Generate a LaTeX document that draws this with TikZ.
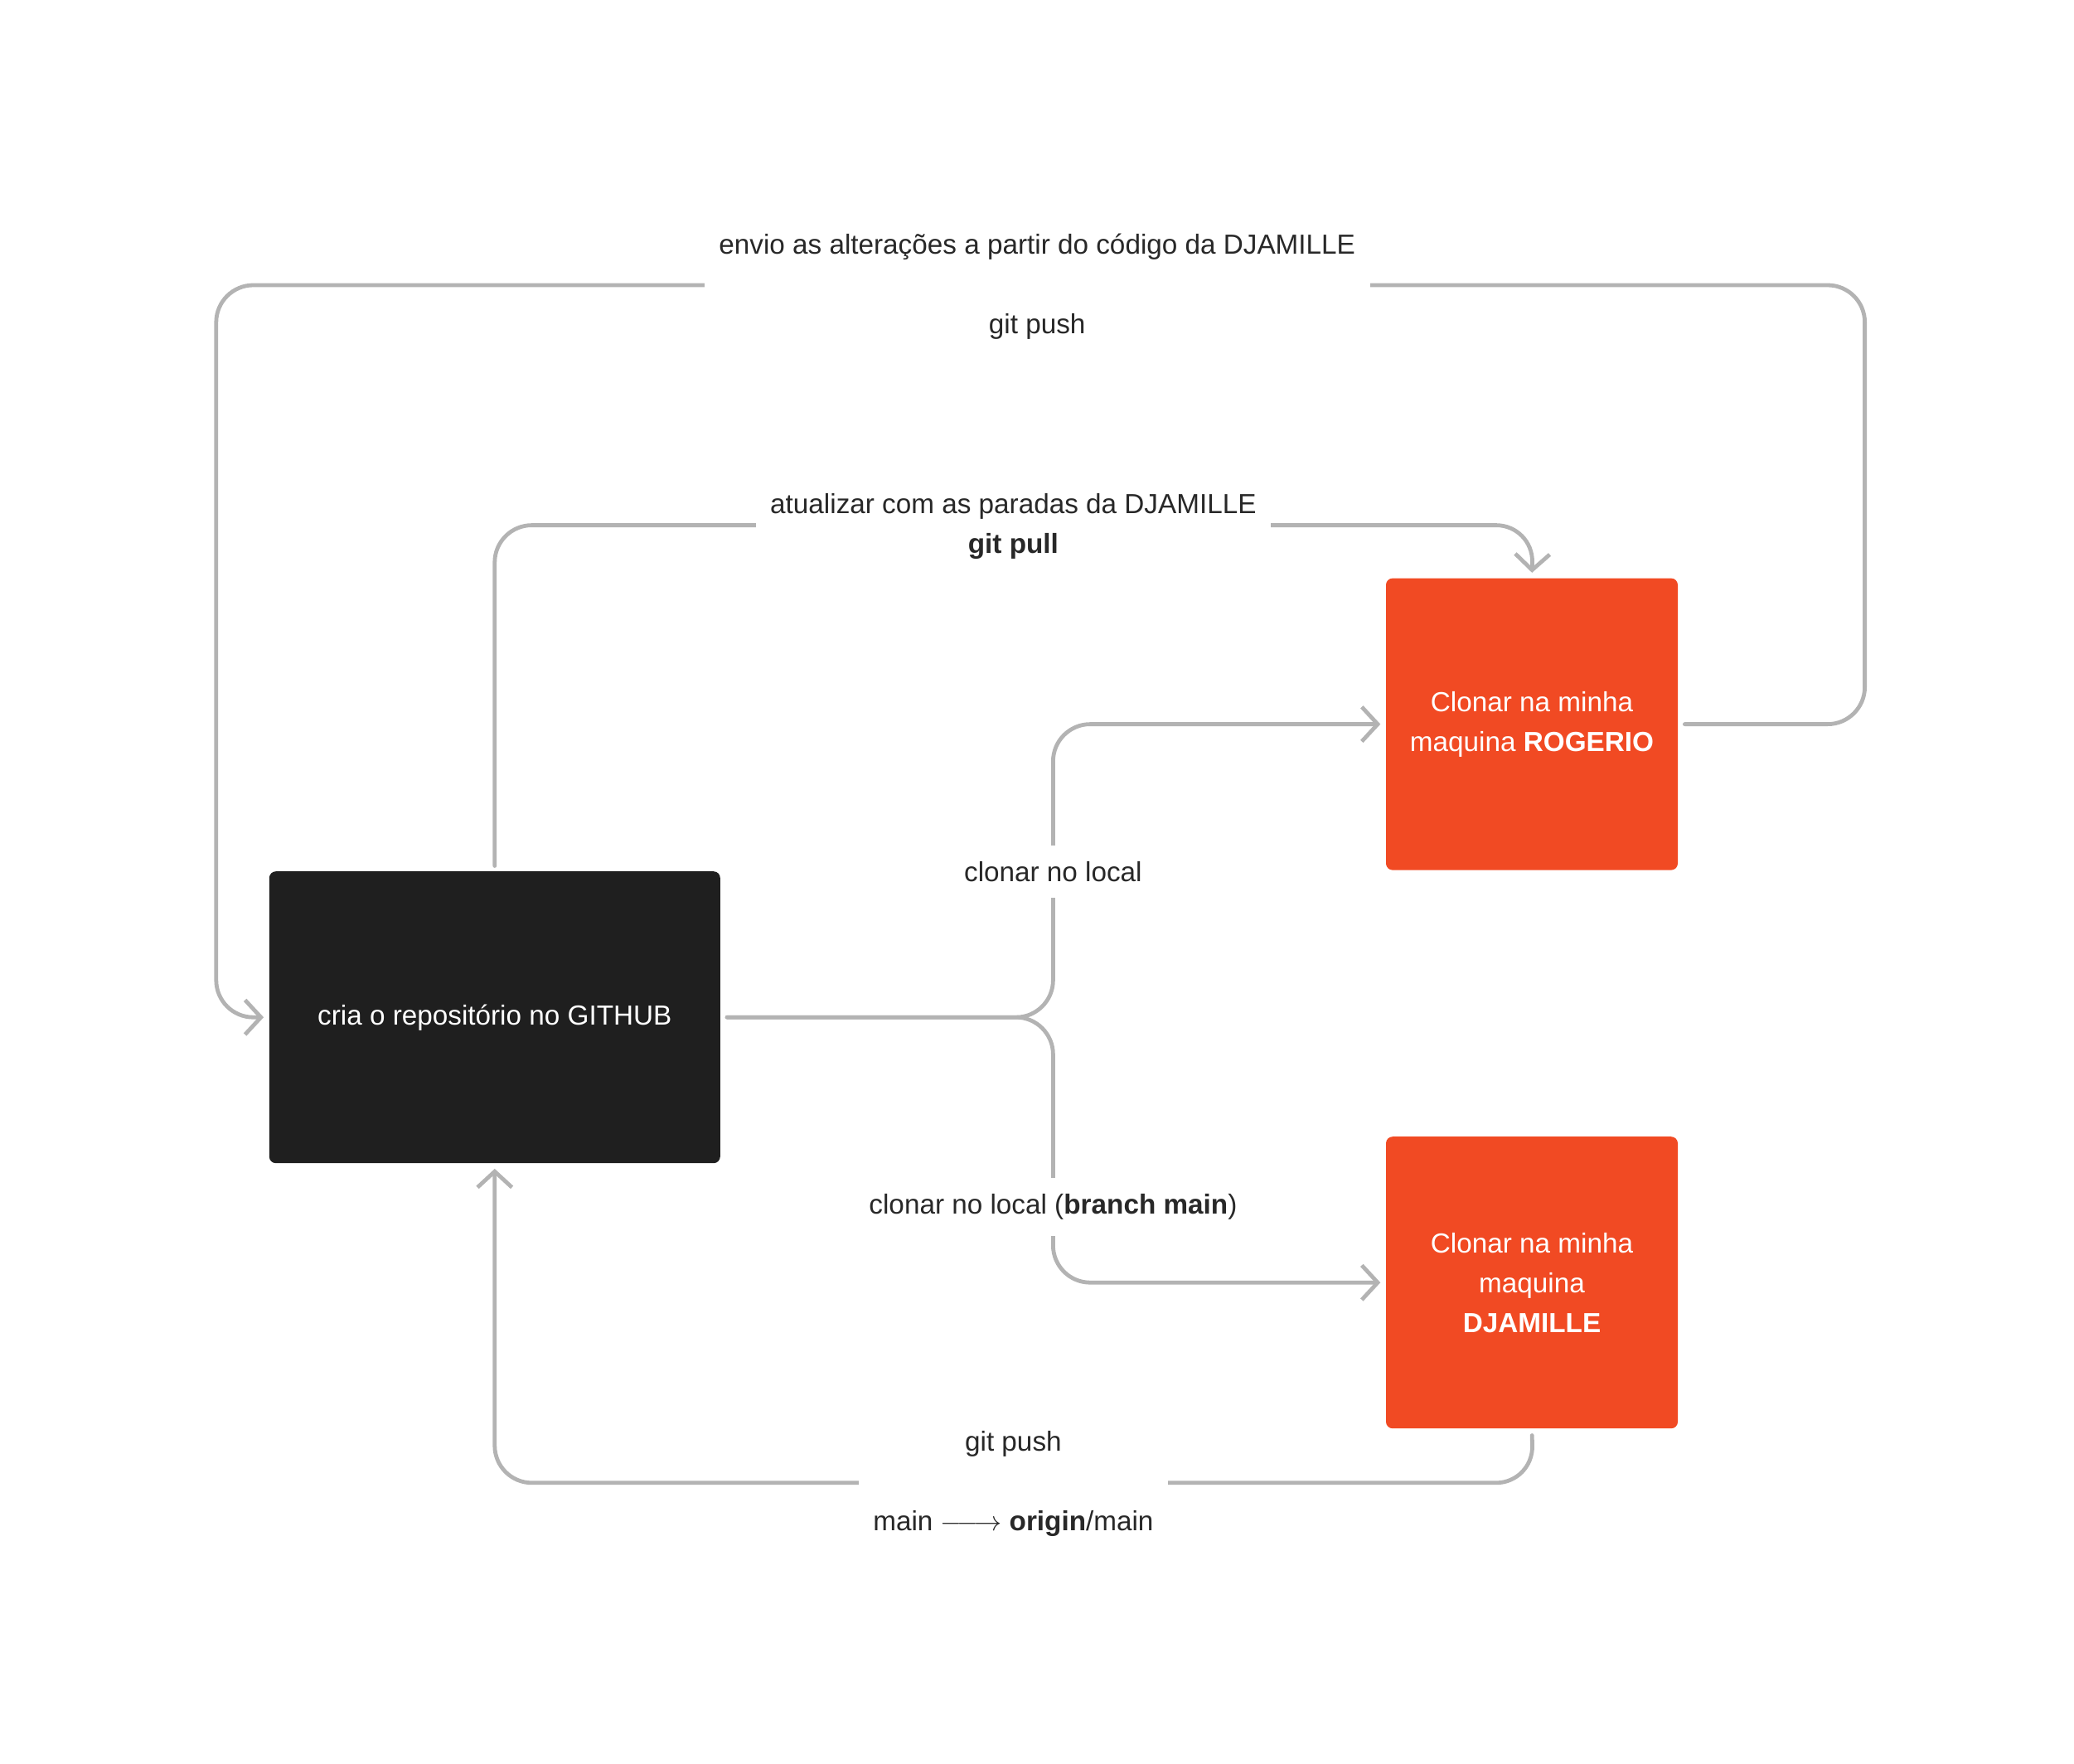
\documentclass[tikz,border=0pt]{standalone}
\usepackage{fontspec}
\setmainfont{Liberation Sans}
\usetikzlibrary{arrows.meta}

\begin{document}
\begin{tikzpicture}[x=1pt,y=1pt,yscale=-1,xscale=1,
    font=\fontsize{20.8}{30}\selectfont,
    conn/.style={draw={rgb, 255:red, 179; green, 179; blue, 179 }, line width=3pt, rounded corners=28pt, line cap=round, line join=round,
        -{Straight Barb[length=12pt,width=26pt]}, shorten <=5pt, shorten >=4pt},
    lbl/.style={text={rgb, 255:red, 40; green, 40; blue, 40 }, fill=white, align=center, inner xsep=11pt, inner ysep=4pt},
    box/.style={rounded corners=5pt, minimum width=220pt, minimum height=220pt, inner sep=0pt, text=white, align=center},
    ]
    \useasboundingbox (0,0) rectangle (1563.75,1330);

    %Shape: Rectangle [id:github]
    \draw (373,767) node [box, minimum width=340pt, fill={rgb, 255:red, 31; green, 31; blue, 31 }] (github) {cria o repositório no GITHUB};
    %Shape: Rectangle [id:rogerio]
    \draw (1155,546) node [box, fill={rgb, 255:red, 241; green, 74; blue, 35 }] (rogerio) {Clonar na minha\\maquina \textbf{ROGERIO}};
    %Shape: Rectangle [id:djamille]
    \draw (1155,967) node [box, fill={rgb, 255:red, 241; green, 74; blue, 35 }] (djamille) {Clonar na minha\\maquina\\\textbf{DJAMILLE}};

    %Straight Lines [id:push rogerio]
    \draw [conn] (rogerio.east) -- (1406,546) -- (1406,215) -- (163,215) -- (163,767) -- (github.west) ;
    %Straight Lines [id:pull]
    \draw [conn, shorten <=4pt] (github.north) -- (373,396) -- (1156,396) -- (rogerio.north) ;
    %Straight Lines [id:clone rogerio]
    \draw [conn] (github.east) -- (794,767) -- (794,546) -- (rogerio.west) ;
    %Straight Lines [id:clone djamille]
    \draw [conn] (github.east) -- (794,767) -- (794,967) -- (djamille.west) ;
    %Straight Lines [id:push djamille]
    \draw [conn] (djamille.south) -- (1156,1118) -- (373,1118) -- (github.south) ;

    % Text Node
    \draw (782,216) node [lbl] (pushtop) {envio as alterações a partir do código da DJAMILLE\\[30pt]git push};
    % Text Node
    \draw (764,397) node [lbl] (pulllbl) {atualizar com as paradas da DJAMILLE\\\textbf{git pull}};
    % Text Node
    \draw (794,657) node [lbl, inner ysep=12pt] (clonelbl) {clonar no local};
    % Text Node
    \draw (794,910) node [lbl, inner ysep=12pt] (branchlbl) {clonar no local (\textbf{branch main})};
    % Text Node
    \draw (764,1119) node [lbl] (pushbottom) {git push\\[30pt]main $\relbar\joinrel\longrightarrow$ \textbf{origin}/main};

\end{tikzpicture}
\end{document}
